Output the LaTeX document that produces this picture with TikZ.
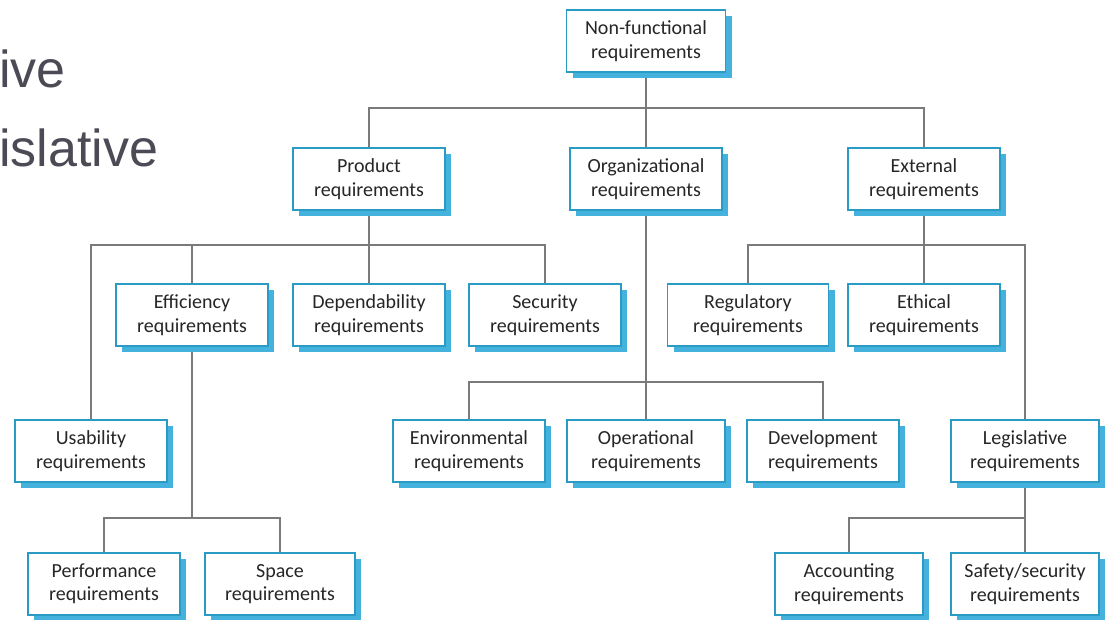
\documentclass[tikz,border=0pt]{standalone}
\usepackage{fontspec}
\setmainfont{Carlito}
\newfontfamily\slidefont{Liberation Sans}
\usetikzlibrary{shadows,backgrounds}
\definecolor{boxline}{HTML}{2A9BC4}
\definecolor{boxshadow}{HTML}{45B2DD}
\definecolor{linkgray}{HTML}{7A7A7A}
\definecolor{slidetext}{HTML}{4B4A55}

\begin{document}
\begin{tikzpicture}[x=1pt,y=-1pt,
		req/.style={draw=boxline,line width=1.6pt,fill=white,minimum width=152pt,minimum height=62pt,align=center,inner sep=0pt,
			font=\fontsize{20}{23.5}\selectfont,text=black!85,
			drop shadow={shadow xshift=6pt,shadow yshift=-6pt,fill=boxshadow,opacity=1}},
		link/.style={draw=linkgray,line width=1.3pt},
		slide/.style={anchor=base west,inner sep=0pt,text=slidetext,font=\slidefont\fontsize{52}{60}\selectfont}]
		\useasboundingbox (0,0) rectangle (1109,620);
		\node[slide] (w1) at (-1,88) {ive};
		\node[slide] (w2) at (-1,167) {islative};
		% top
		\node[req,minimum width=159pt] (nfr) at (646,41) {Non-functional\\requirements};
		\node[req] (prod) at (369,179) {Product\\requirements};
		\node[req] (org) at (646,179) {Organizational\\requirements};
		\node[req] (ext) at (924,179) {External\\requirements};
		% second row
		\node[req] (eff) at (192,315) {Efficiency\\requirements};
		\node[req] (dep) at (369,315) {Dependability\\requirements};
		\node[req] (sec) at (545,315) {Security\\requirements};
		\node[req,minimum width=161pt] (reg) at (748,315) {Regulatory\\requirements};
		\node[req] (eth) at (924,315) {Ethical\\requirements};
		% third row
		\node[req] (usab) at (91,451) {Usability\\requirements};
		\node[req] (env) at (469,451) {Environmental\\requirements};
		\node[req,minimum width=158pt] (oper) at (646,451) {Operational\\requirements};
		\node[req] (dev) at (823,451) {Development\\requirements};
		\node[req,minimum width=148pt] (legis) at (1025,451) {Legislative\\requirements};
		% bottom
		\node[req] (perf) at (104,584) {Performance\\requirements};
		\node[req,minimum width=150pt] (space) at (280,584) {Space\\requirements};
		\node[req,minimum width=148pt] (acc) at (849,584) {Accounting\\requirements};
		\node[req,minimum width=148pt] (safe) at (1025,584) {Safety/security\\requirements};
		\coordinate (j0) at (646,108);
		\coordinate (j1) at (369,245);
		\coordinate (j2) at (192,518);
		\coordinate (j3) at (646,382);
		\coordinate (j4) at (924,245);
		\coordinate (j5) at (1025,518);
		\begin{scope}[on background layer]
			\fill[white] (0,0) rectangle (1109,620);
			\draw[link] (nfr) -- (org);
			\draw[link] (prod.north) |- (j0) -| (ext.north);
			\draw[link] (prod) -- (dep);
			\draw[link] (usab.north) |- (j1) -| (sec.north);
			\draw[link] (eff.north) -- (eff.north |- j1);
			\draw[link] (eff) -- (j2);
			\draw[link] (perf.north) |- (j2) -| (space.north);
			\draw[link] (org) -- (oper);
			\draw[link] (env.north) |- (j3) -| (dev.north);
			\draw[link] (ext) -- (eth);
			\draw[link] (reg.north) |- (j4) -| (legis.north);
			\draw[link] (legis) -- (safe);
			\draw[link] (acc.north) |- (j5);
		\end{scope}
	\end{tikzpicture}
\end{document}
